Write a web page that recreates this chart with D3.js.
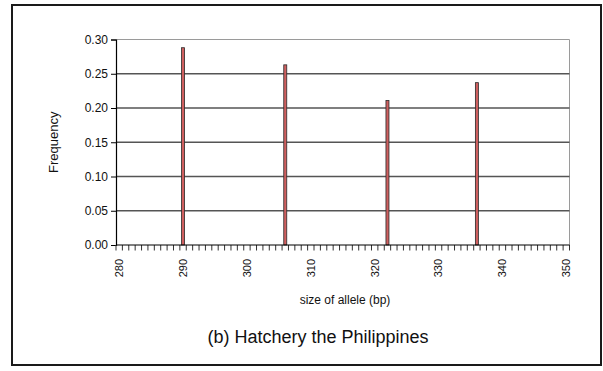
<!DOCTYPE html>
<html>
<head>
<meta charset="utf-8">
<script src="https://cdn.jsdelivr.net/npm/d3@7/dist/d3.min.js"></script>
<style>
  html, body { margin: 0; padding: 0; background: #fff; }
  svg { display: block; font-family: "Liberation Sans", Arial, sans-serif; }
</style>
</head>
<body>
<script>
// Allele sizes on the category axis (bp)
const alleleSizes = d3.range(280, 351);
// Observed alleles and their frequencies
const observedAlleles = [290, 306, 322, 336];
const frequencies = [0.288, 0.263, 0.211, 0.237];
// Axis tick labels
const xTickLabels = [280, 290, 300, 310, 320, 330, 340, 350];
const yTickValues = [0.00, 0.05, 0.10, 0.15, 0.20, 0.25, 0.30];

const W = 603, H = 371;
const plot = { left: 116, right: 569.5, top: 39.5, bottom: 245 };

const svg = d3.select("body").append("svg").attr("width", W).attr("height", H);

// Outer frame
svg.append("rect")
  .attr("x", 12).attr("y", 5).attr("width", 589).attr("height", 360)
  .attr("fill", "none").attr("stroke", "#1a1a1a").attr("stroke-width", 2);

const x = d3.scaleBand().domain(alleleSizes).range([plot.left, plot.right]).padding(0);
const y = d3.scaleLinear().domain([0, 0.30]).range([plot.bottom, plot.top]);

// Plot area border (top and right)
svg.append("path")
  .attr("d", `M${plot.left},${plot.top}H${plot.right}V${plot.bottom}`)
  .attr("fill", "none").attr("stroke", "#9a9a9a").attr("stroke-width", 1);

// Horizontal gridlines
svg.append("g").selectAll("line")
  .data(yTickValues.filter(v => v > 0 && v < 0.30))
  .join("line")
  .attr("x1", plot.left).attr("x2", plot.right)
  .attr("y1", d => y(d)).attr("y2", d => y(d))
  .attr("stroke", "#555").attr("stroke-width", 1.5);

// Y axis
const yAxis = d3.axisLeft(y).tickValues(yTickValues).tickFormat(d3.format(".2f"))
  .tickSize(5).tickPadding(3);
const gy = svg.append("g").attr("transform", `translate(${plot.left},0)`).call(yAxis);
gy.select(".domain").attr("stroke", "#000").attr("stroke-width", 1.2);
gy.selectAll(".tick line").attr("stroke", "#000");
gy.selectAll(".tick text").attr("font-size", 12).attr("fill", "#111")
  .attr("font-family", "Liberation Sans, Arial, sans-serif");

// X axis: minor ticks at every category boundary
const boundaries = alleleSizes.map(d => x(d)).concat([x(alleleSizes[alleleSizes.length - 1]) + x.bandwidth()]);
svg.append("g").selectAll("line")
  .data(boundaries)
  .join("line")
  .attr("x1", d => d).attr("x2", d => d)
  .attr("y1", plot.bottom).attr("y2", plot.bottom + 5.5)
  .attr("stroke", "#333").attr("stroke-width", 1);

// Bars
svg.append("g").selectAll("rect")
  .data(observedAlleles.map((a, i) => ({ a, f: frequencies[i] })))
  .join("rect")
  .attr("x", d => x(d.a) + x.bandwidth() / 2 - 1.5)
  .attr("width", 3)
  .attr("y", d => y(d.f))
  .attr("height", d => y(0) - y(d.f))
  .attr("fill", "#cf5f5f").attr("stroke", "#2a2a2a").attr("stroke-width", 0.8);

// X axis line
svg.append("line")
  .attr("x1", plot.left).attr("x2", plot.right)
  .attr("y1", plot.bottom).attr("y2", plot.bottom)
  .attr("stroke", "#000").attr("stroke-width", 1.2);

// Rotated x tick labels
svg.append("g").selectAll("text")
  .data(xTickLabels)
  .join("text")
  .attr("transform", d => `translate(${x(d) + x.bandwidth() / 2},${plot.bottom + 14}) rotate(-90)`)
  .attr("text-anchor", "end")
  .attr("dy", "0.35em")
  .attr("font-size", 11).attr("fill", "#111")
  .text(d => d);

// Axis titles
svg.append("text")
  .attr("transform", `translate(58,${(plot.top + plot.bottom) / 2}) rotate(-90)`)
  .attr("text-anchor", "middle")
  .attr("font-size", 13).attr("fill", "#111")
  .text("Frequency");

svg.append("text")
  .attr("x", 345).attr("y", 304)
  .attr("text-anchor", "middle")
  .attr("font-size", 12).attr("fill", "#111")
  .text("size of allele (bp)");

// Chart caption
svg.append("text")
  .attr("x", 318).attr("y", 343)
  .attr("text-anchor", "middle")
  .attr("font-size", 18).attr("fill", "#111")
  .text("(b) Hatchery the Philippines");
</script>
</body>
</html>
